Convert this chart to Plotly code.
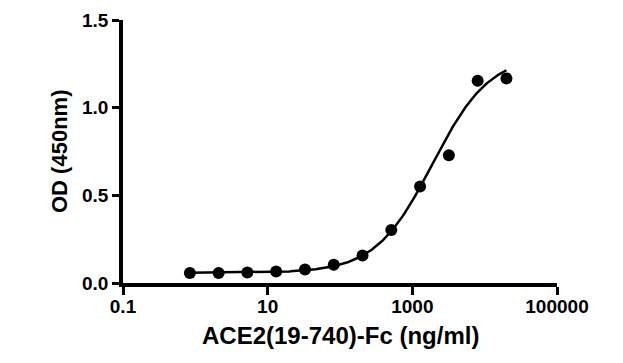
import numpy as np
import plotly.graph_objects as go

# Data
conc = [0.84, 2.1, 5.24, 13.1, 32.8, 81.9, 204.8, 512, 1280, 3200, 8000, 20000]
od = [0.057, 0.057, 0.060, 0.066, 0.077, 0.104, 0.157, 0.302, 0.550, 0.728, 1.154, 1.167]

# 4-parameter logistic fit parameters (estimated from the drawn curve)
fit_bottom = 0.058
fit_top = 1.30
fit_ec50 = 1900.0
fit_hill = 1.1

x_tickvals = [0.1, 10, 1000, 100000]
x_ticktext = ["0.1", "10", "1000", "100000"]
y_tickvals = [0.0, 0.5, 1.0, 1.5]
y_ticktext = ["0.0", "0.5", "1.0", "1.5"]

xf = np.logspace(np.log10(min(conc)), np.log10(max(conc)), 300)
yf = fit_bottom + (fit_top - fit_bottom) / (1 + (fit_ec50 / xf) ** fit_hill)

font = "Liberation Sans, Arial, sans-serif"
# page has an 8px body margin; figure sized to fit in the window
OFF = 8
W, H = 615, 355
L, R, T, B = 115, 66, 12, 80
PW, PH = W - L - R, H - T - B


def px_x(page_x):
    return (page_x - OFF - L) / PW


def px_y(page_y):
    return (H - B - (page_y - OFF)) / PH


fig = go.Figure()
fig.add_trace(go.Scatter(x=xf, y=yf, mode="lines",
                         line=dict(color="black", width=2.5), showlegend=False,
                         hoverinfo="skip"))
fig.add_trace(go.Scatter(x=conc, y=od, mode="markers",
                         marker=dict(color="black", size=12), showlegend=False))

fig.update_layout(
    width=W, height=H,
    margin=dict(l=L, r=R, t=T, b=B),
    paper_bgcolor="white", plot_bgcolor="white",
    font=dict(family=font, color="black"),
    xaxis=dict(
        type="log", range=[-1, 5], automargin=False,
        tickvals=x_tickvals, ticktext=x_ticktext,
        ticks="outside", ticklen=3, tickwidth=3, tickcolor="black",
        minor=dict(tickvals=x_tickvals, ticks="outside", ticklen=8,
                   tickwidth=3, tickcolor="black", showgrid=False),
        showline=True, linewidth=3.5, linecolor="black",
        showgrid=False, zeroline=False,
        tickfont=dict(size=19, family=font, weight="bold"),
    ),
    yaxis=dict(
        range=[0, 1.5], automargin=False,
        tickvals=y_tickvals, ticktext=y_ticktext,
        ticks="outside", ticklen=7, tickwidth=3, tickcolor="black",
        showline=True, linewidth=3.5, linecolor="black",
        showgrid=False, zeroline=False,
        tickfont=dict(size=19, family=font, weight="bold"),
    ),
    annotations=[
        dict(text="<b>ACE2(19-740)-Fc (ng/ml)</b>", xref="paper", yref="paper",
             x=px_x(340), y=px_y(335),
             xanchor="center", yanchor="middle", showarrow=False,
             font=dict(size=24, family=font)),
        dict(text="<b>OD (450nm)</b>", xref="paper", yref="paper",
             x=px_x(59), y=px_y(152),
             xanchor="center", yanchor="middle", textangle=-90, showarrow=False,
             font=dict(size=22, family=font)),
    ],
)

fig.write_html("out.html")
